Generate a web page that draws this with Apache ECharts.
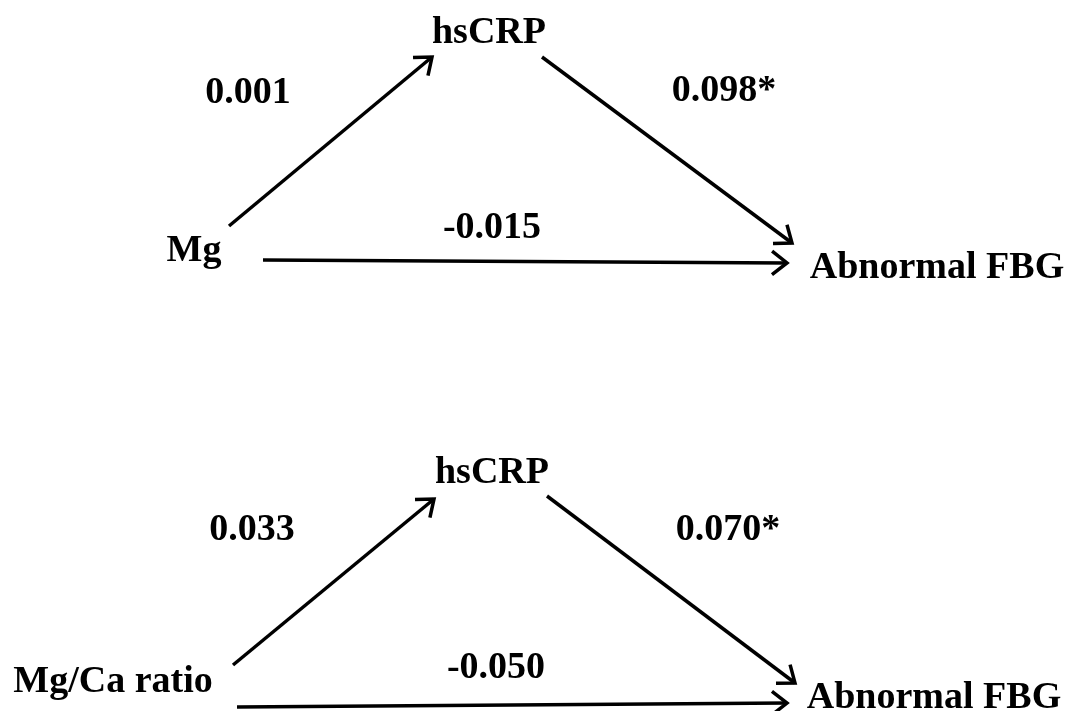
<!DOCTYPE html>
<html>
<head>
<meta charset="utf-8">
<script src="https://cdn.jsdelivr.net/npm/echarts@6/dist/echarts.min.js"></script>
<style>
  html, body { margin: 0; padding: 0; background: #ffffff; }
  #chart { width: 1069px; height: 711px; }
</style>
</head>
<body>
<div id="chart"></div>
<script>
// Node labels (variables in the two mediation models)
const nodeNames = ['hsCRP', 'Mg', 'Abnormal FBG', 'hsCRP', 'Mg/Ca ratio', 'Abnormal FBG'];
const nodeX = [489, 194, 937, 492, 113, 934];
const nodeY = [33, 251, 268, 473, 682, 698];

// Path coefficients
const coefLabels = ['0.001', '0.098*', '-0.015', '0.033', '0.070*', '-0.050'];
const coefX = [248, 724, 492, 252, 728, 496];
const coefY = [93, 91, 228, 530, 530, 668];

// Arrows (from -> to)
const arrowFromX = [229, 542, 263, 233, 547, 237];
const arrowFromY = [226, 57, 260, 665, 496, 707];
const arrowToX = [432, 792, 787, 434, 795, 787];
const arrowToY = [57, 243, 263, 499, 683, 703];

const FONT = "'Times New Roman', 'Liberation Serif', serif";

const textData = nodeNames.map((n, i) => [nodeX[i], nodeY[i], n])
  .concat(coefLabels.map((c, i) => [coefX[i], coefY[i], c]));

const arrowData = arrowFromX.map((x, i) => [x, arrowFromY[i], arrowToX[i], arrowToY[i]]);

const chart = echarts.init(document.getElementById('chart'), null, { renderer: 'canvas' });
chart.setOption({
  backgroundColor: '#ffffff',
  animation: false,
  grid: { left: 0, right: 0, top: 0, bottom: 0, containLabel: false },
  xAxis: { type: 'value', min: 0, max: 1069, show: false },
  yAxis: { type: 'value', min: 0, max: 711, inverse: true, show: false },
  series: [
    {
      type: 'custom',
      encode: { x: [0, 2], y: [1, 3] },
      data: arrowData,
      silent: true,
      renderItem: function (params, api) {
        const p1 = api.coord([api.value(0), api.value(1)]);
        const p2 = api.coord([api.value(2), api.value(3)]);
        const ang = Math.atan2(p2[1] - p1[1], p2[0] - p1[0]);
        const L = 19, a = 38 * Math.PI / 180;
        const h1 = [p2[0] - L * Math.cos(ang - a), p2[1] - L * Math.sin(ang - a)];
        const h2 = [p2[0] - L * Math.cos(ang + a), p2[1] - L * Math.sin(ang + a)];
        return {
          type: 'group',
          children: [
            { type: 'line', shape: { x1: p1[0], y1: p1[1], x2: p2[0], y2: p2[1] },
              style: { stroke: '#000', lineWidth: 3.5, lineCap: 'butt' } },
            { type: 'polyline', shape: { points: [h1, p2, h2] },
              style: { stroke: '#000', lineWidth: 3.5, fill: null, lineJoin: 'miter' } }
          ]
        };
      }
    },
    {
      type: 'custom',
      encode: { x: 0, y: 1 },
      data: textData,
      silent: true,
      renderItem: function (params, api) {
        const p = api.coord([api.value(0), api.value(1)]);
        return {
          type: 'text',
          x: p[0],
          y: p[1],
          style: {
            text: textData[params.dataIndex][2],
            fill: '#000',
            font: "bold 38px " + FONT,
            align: 'center',
            verticalAlign: 'middle'
          }
        };
      }
    }
  ]
});
</script>
</body>
</html>
